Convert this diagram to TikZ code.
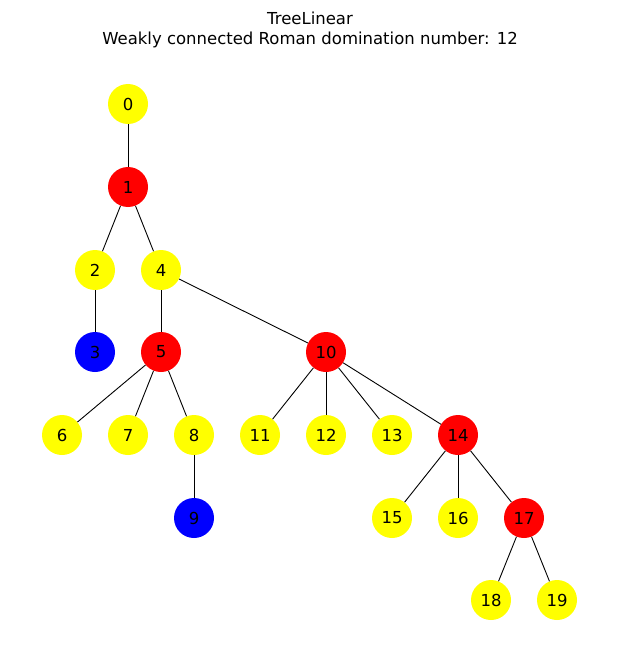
\documentclass[tikz,border=0pt]{standalone}
\usepackage{fontspec}
\setmainfont{DejaVu Sans}
\begin{document}
\begin{tikzpicture}[x=1pt,y=-1pt,
  vtx/.style={circle,minimum size=40pt,inner sep=0pt,font=\fontsize{16.5}{18}\selectfont},
  Y/.style={vtx,fill={rgb,255:red,255;green,255;blue,0}},
  R/.style={vtx,fill={rgb,255:red,255;green,0;blue,0}},
  B/.style={vtx,fill={rgb,255:red,0;green,0;blue,255}},
  edge/.style={draw=black,line width=0.9pt}]
\useasboundingbox (0,0) rectangle (619,663);
\node[font=\fontsize{16.5}{18}\selectfont] (t1) at (310,18) {TreeLinear};
\node[font=\fontsize{16.5}{18}\selectfont] (t2) at (310,40) {Weakly connected Roman domination number: 12};
\node[Y] (n0) at (128,104) {0};
\node[R] (n1) at (128,187) {1};
\node[Y] (n2) at (95,270) {2};
\node[Y] (n4) at (161,270) {4};
\node[B] (n3) at (95,352) {3};
\node[R] (n5) at (161,352) {5};
\node[R] (n10) at (326,352) {10};
\node[Y] (n6) at (62,435) {6};
\node[Y] (n7) at (128,435) {7};
\node[Y] (n8) at (194,435) {8};
\node[Y] (n11) at (260,435) {11};
\node[Y] (n12) at (326,435) {12};
\node[Y] (n13) at (392,435) {13};
\node[R] (n14) at (458,435) {14};
\node[B] (n9) at (194,518) {9};
\node[Y] (n15) at (392,518) {15};
\node[Y] (n16) at (458,518) {16};
\node[R] (n17) at (524,518) {17};
\node[Y] (n18) at (491,600) {18};
\node[Y] (n19) at (557,600) {19};
\begin{scope}[on background layer/.style={}]
\end{scope}
\path[edge] (n0) -- (n1);
\path[edge] (n1) -- (n2);
\path[edge] (n1) -- (n4);
\path[edge] (n2) -- (n3);
\path[edge] (n4) -- (n5);
\path[edge] (n4) -- (n10);
\path[edge] (n5) -- (n6);
\path[edge] (n5) -- (n7);
\path[edge] (n5) -- (n8);
\path[edge] (n8) -- (n9);
\path[edge] (n10) -- (n11);
\path[edge] (n10) -- (n12);
\path[edge] (n10) -- (n13);
\path[edge] (n10) -- (n14);
\path[edge] (n14) -- (n15);
\path[edge] (n14) -- (n16);
\path[edge] (n14) -- (n17);
\path[edge] (n17) -- (n18);
\path[edge] (n17) -- (n19);
\end{tikzpicture}
\end{document}
